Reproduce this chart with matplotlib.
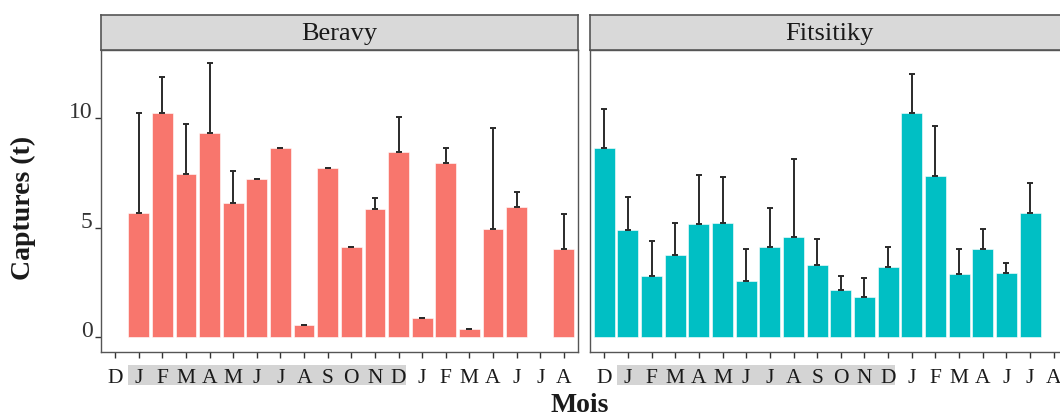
import numpy as np
import matplotlib
matplotlib.use("Agg")
import matplotlib.pyplot as plt
from matplotlib.patches import Rectangle
import matplotlib.transforms as mtransforms

plt.rcParams['font.family'] = ['Liberation Serif', 'DejaVu Serif']

# Data
months = ['D', 'J', 'F', 'M', 'A', 'M', 'J', 'J', 'A', 'S',
          'O', 'N', 'D', 'J', 'F', 'M', 'A', 'J', 'J', 'A']
nan = np.nan
beravy_mean = [nan, 5.65, 10.24, 7.44, 9.30, 6.10, 7.23, 8.62, 0.55, 7.70,
               4.10, 5.83, 8.46, 0.85, 7.93, 0.35, 4.95, 5.92, nan, 4.03]
beravy_sd = [nan, 4.59, 1.61, 2.29, 3.20, 1.49, 0.0, 0.0, 0.0, 0.0,
             0.0, 0.50, 1.57, 0.0, 0.69, 0.0, 4.58, 0.69, nan, 1.59]
fits_mean = [8.62, 4.89, 2.79, 3.76, 5.16, 5.22, 2.57, 4.10, 4.58, 3.29,
             2.15, 1.81, 3.21, 10.21, 7.35, 2.88, 4.03, 2.94, 5.65, nan]
fits_sd = [1.78, 1.49, 1.58, 1.46, 2.22, 2.07, 1.46, 1.79, 3.53, 1.17,
           0.64, 0.90, 0.91, 1.79, 2.28, 1.15, 0.92, 0.42, 1.37, nan]

panels = ['Beravy', 'Fitsitiky']
colors = ['#F8766D', '#00BFC4']
means = [beravy_mean, fits_mean]
sds = [beravy_sd, fits_sd]

W, H = 1060, 420
fig = plt.figure(figsize=(W / 100, H / 100), dpi=100)

# panel pixel boxes (left, right)
boxes = [(101, 578), (590, 1068)]
ptop, pbot, stop = 50, 352, 15
edge = '#555555'

x = np.arange(len(months))
for k, (l, r) in enumerate(boxes):
    ax = fig.add_axes([l / W, 1 - pbot / H, (r - l) / W, (pbot - ptop) / H])
    m = np.array(means[k], dtype=float)
    s = np.array(sds[k], dtype=float)
    ok = ~np.isnan(m)
    ax.bar(x[ok], m[ok], width=0.88, color=colors[k], edgecolor='white',
           linewidth=0.4, zorder=2)
    ax.errorbar(x[ok], m[ok], yerr=[np.zeros(ok.sum()), s[ok]], fmt='none',
                ecolor='#2a2a2a', elinewidth=1.4, capsize=2.5, capthick=1.4,
                zorder=3)
    ax.set_xlim(-0.6, len(months) - 0.4)
    ax.set_ylim(-0.68, 13.1)
    ax.set_xticks(x)
    ax.set_xticklabels(months, fontsize=15.5, color='#1a1a1a')
    ax.tick_params(axis='x', length=4, width=1, color='#333333', pad=8)
    if k == 0:
        ax.set_yticks([0, 5, 10])
        ax.set_yticklabels(['0', '5', '10'], fontsize=17, color='#333333')
        for t in ax.get_yticklabels():
            t.set_va('baseline')
        ax.tick_params(axis='y', length=4, width=1, color='#333333', pad=2)
    else:
        ax.set_yticks([])
    for sp in ax.spines.values():
        sp.set_color(edge)
        sp.set_linewidth(1.0)

    # gray band behind the J..D tick labels
    trans = mtransforms.blended_transform_factory(ax.transData, ax.transAxes)
    ax.add_patch(Rectangle((0.55, -0.109), 11.75, 0.066, transform=trans,
                           facecolor='#d4d4d4', edgecolor='none',
                           clip_on=False, zorder=0))

    # facet strip
    sax = fig.add_axes([l / W, 1 - ptop / H, (r - l) / W, (ptop - stop) / H])
    sax.set_facecolor('#d9d9d9')
    sax.set_xticks([])
    sax.set_yticks([])
    for sp in sax.spines.values():
        sp.set_color(edge)
        sp.set_linewidth(1.2)
    sax.text(0.5, 0.45, panels[k], transform=sax.transAxes, ha='center',
             va='center', fontsize=19, color='#1a1a1a')

fig.text(23 / W, 1 - 208 / H, 'Captures (t)', rotation=90, ha='center',
         va='center', fontsize=20, fontweight='bold', color='#1a1a1a')
fig.text(580 / W, 1 - 406 / H, 'Mois', ha='center', va='center',
         fontsize=20, fontweight='bold', color='#1a1a1a')

fig.savefig('out.png', dpi=100)
